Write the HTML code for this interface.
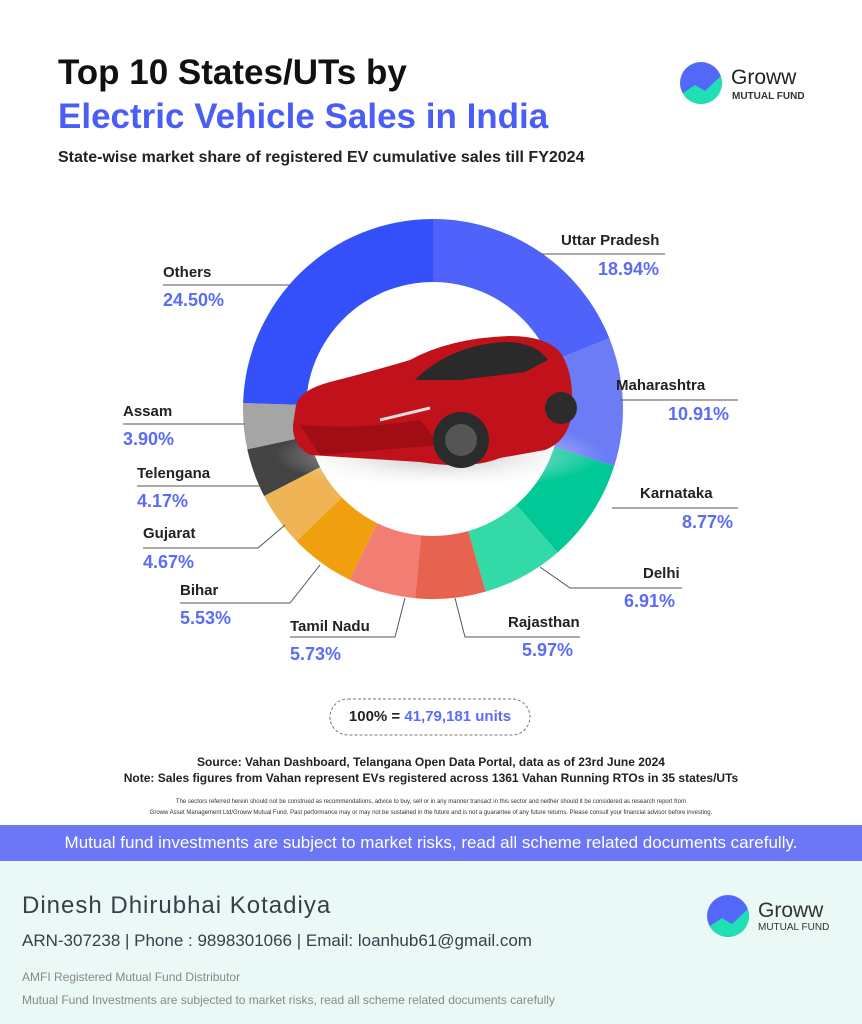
<!DOCTYPE html><html><head><meta charset="utf-8"><style>
body{margin:0;width:862px;height:1024px;position:relative;background:#fff;font-family:"Liberation Sans",sans-serif;overflow:hidden}
.a{position:absolute;white-space:nowrap}
.l{font-size:15px;font-weight:bold;color:#222}
.p{font-size:18px;font-weight:bold;color:#5b6cf7}
</style></head><body>
<div class="a" style="left:58px;top:53px;font-size:35px;font-weight:bold;color:#111">Top 10 States/UTs by</div>
<div class="a" style="left:58px;top:97px;font-size:35px;font-weight:bold;color:#4a5ef5">Electric Vehicle Sales in India</div>
<div class="a" style="left:58px;top:149px;font-size:16px;font-weight:bold;color:#222">State-wise market share of registered EV cumulative sales till FY2024</div>
<svg class="a" style="left:0;top:0" width="862" height="1024">
<defs><clipPath id="c1"><circle cx="0" cy="0" r="21"/></clipPath>
<radialGradient id="sh" cx="0.5" cy="0.5" r="0.5"><stop offset="0" stop-color="#bbb"/><stop offset="1" stop-color="#fff" stop-opacity="0"/></radialGradient></defs>
<g transform="translate(701,83)" clip-path="url(#c1)"><rect x="-21" y="-21" width="42" height="42" fill="#5367f9"/><path d="M-21 12 L-6 2 L4 8 L21 -8 L21 21 L-21 21Z" fill="#1fe0b2"/></g>
<g id="d"></g>
<circle cx="433" cy="409" r="127" fill="#fff"/>
<ellipse cx="440" cy="455" rx="165" ry="35" fill="url(#sh)"/>
<path d="M296 405 Q300 390 330 382 Q370 372 410 360 Q450 338 510 336 Q545 336 560 352 Q574 372 572 410 Q570 440 545 450 L500 458 Q470 470 420 462 L310 455 Q292 445 293 425Z" fill="#c1121b"/>
<path d="M415 380 Q450 345 505 342 Q535 342 548 360 L525 372 L460 380Z" fill="#2a2a2a"/>
<path d="M300 425 Q360 430 420 420 L440 445 L320 455 Z" fill="#a00d15"/>
<circle cx="461" cy="440" r="28" fill="#2b2b2b"/><circle cx="461" cy="440" r="16" fill="#555"/>
<circle cx="561" cy="408" r="16" fill="#2b2b2b"/>
<path d="M380 420 L430 408" stroke="#ddd" stroke-width="3"/>
<g stroke="#555" stroke-width="1" fill="none">
<path d="M540 254 H665"/><path d="M620 400 H738"/><path d="M612 508 H738"/>
<path d="M540 567 L570 588 H682"/><path d="M455 598 L465 637 H580"/>
<path d="M405 598 L395 637 H290"/><path d="M320 565 L290 603 H180"/>
<path d="M285 525 L258 548 H143"/><path d="M137 486 H262"/><path d="M123 424 H245"/><path d="M163 285 H290"/>
</g>
<rect x="330" y="699" width="200" height="36" rx="18" fill="none" stroke="#777" stroke-dasharray="3,2"/>
</svg>
<div class="a" style="left:731px;top:66px;font-size:21px;color:#222">Groww</div>
<div class="a" style="left:732px;top:91px;font-size:10px;font-weight:bold;color:#333">MUTUAL FUND</div>
<div class="a l" style="left:561px;top:232px">Uttar Pradesh</div><div class="a p" style="left:598px;top:259px">18.94%</div>
<div class="a l" style="left:616px;top:377px">Maharashtra</div><div class="a p" style="left:668px;top:404px">10.91%</div>
<div class="a l" style="left:640px;top:485px">Karnataka</div><div class="a p" style="left:682px;top:512px">8.77%</div>
<div class="a l" style="left:643px;top:565px">Delhi</div><div class="a p" style="left:624px;top:591px">6.91%</div>
<div class="a l" style="left:508px;top:614px">Rajasthan</div><div class="a p" style="left:522px;top:640px">5.97%</div>
<div class="a l" style="left:290px;top:618px">Tamil Nadu</div><div class="a p" style="left:290px;top:644px">5.73%</div>
<div class="a l" style="left:180px;top:582px">Bihar</div><div class="a p" style="left:180px;top:608px">5.53%</div>
<div class="a l" style="left:143px;top:525px">Gujarat</div><div class="a p" style="left:143px;top:552px">4.67%</div>
<div class="a l" style="left:137px;top:465px">Telengana</div><div class="a p" style="left:137px;top:491px">4.17%</div>
<div class="a l" style="left:123px;top:403px">Assam</div><div class="a p" style="left:123px;top:429px">3.90%</div>
<div class="a l" style="left:163px;top:264px">Others</div><div class="a p" style="left:163px;top:290px">24.50%</div>
<div class="a" style="left:330px;top:708px;width:200px;text-align:center;font-size:15px;font-weight:bold;color:#222">100% = <span style="color:#5b6cf7">41,79,181 units</span></div>
<div class="a" style="left:0;top:755px;width:862px;text-align:center;font-size:12px;font-weight:bold;color:#222">Source: Vahan Dashboard, Telangana Open Data Portal, data as of 23rd June 2024</div>
<div class="a" style="left:0;top:771px;width:862px;text-align:center;font-size:12px;font-weight:bold;color:#222">Note: Sales figures from Vahan represent EVs registered across 1361 Vahan Running RTOs in 35 states/UTs</div>
<div class="a" style="left:0;top:797px;width:862px;text-align:center;font-size:6px;color:#333;line-height:11px">The sectors referred herein should not be construed as recommendations, advice to buy, sell or in any manner transact in this sector and neither should it be considered as research report from<br>Groww Asset Management Ltd/Groww Mutual Fund. Past performance may or may not be sustained in the future and is not a guarantee of any future returns. Please consult your financial advisor before investing.</div>
<div class="a" style="left:0;top:825px;width:862px;height:36px;background:#6b77f4;color:#fff;font-size:17px;text-align:center;line-height:36px">Mutual fund investments are subject to market risks, read all scheme related documents carefully.</div>
<div class="a" style="left:0;top:861px;width:862px;height:163px;background:#eaf8f6"></div>
<div class="a" style="left:22px;top:892px;font-size:24px;color:#3a3d4a;letter-spacing:1px">Dinesh Dhirubhai Kotadiya</div>
<div class="a" style="left:22px;top:931px;font-size:17px;color:#3a3d4a">ARN-307238 | Phone : 9898301066 | Email: loanhub61@gmail.com</div>
<div class="a" style="left:22px;top:970px;font-size:12px;color:#888">AMFI Registered Mutual Fund Distributor</div>
<div class="a" style="left:22px;top:993px;font-size:12px;color:#888">Mutual Fund Investments are subjected to market risks, read all scheme related documents carefully</div>
<svg class="a" style="left:707px;top:895px" width="42" height="42"><defs><clipPath id="c2"><circle cx="21" cy="21" r="21"/></clipPath></defs><g clip-path="url(#c2)"><rect width="42" height="42" fill="#5367f9"/><path d="M0 33 L15 23 L25 29 L42 13 L42 42 L0 42Z" fill="#1fe0b2"/></g></svg>
<div class="a" style="left:758px;top:899px;font-size:21px;color:#333">Groww</div>
<div class="a" style="left:758px;top:922px;font-size:10px;color:#333">MUTUAL FUND</div>
<script>
var v=[[18.94,"#4f63fb"],[10.91,"#6b7cf5"],[8.77,"#00c896"],[6.91,"#33d9a6"],[5.97,"#e8634f"],[5.73,"#f27d72"],[5.53,"#f0a00e"],[4.67,"#eeb455"],[4.17,"#444"],[3.90,"#a5a5a5"],[24.5,"#3350fa"]];
var cx=433,cy=409,R=190,a=0,s="";
function pt(t){return (cx+R*Math.sin(t)).toFixed(1)+" "+(cy-R*Math.cos(t)).toFixed(1)}
v.forEach(function(e){var b=a+e[0]/100*2*Math.PI;s+='<path d="M'+cx+' '+cy+' L'+pt(a)+' A'+R+' '+R+' 0 '+(b-a>Math.PI?1:0)+' 1 '+pt(b)+'Z" fill="'+e[1]+'"/>';a=b;});
document.getElementById("d").innerHTML=s;
</script>
</body></html>
